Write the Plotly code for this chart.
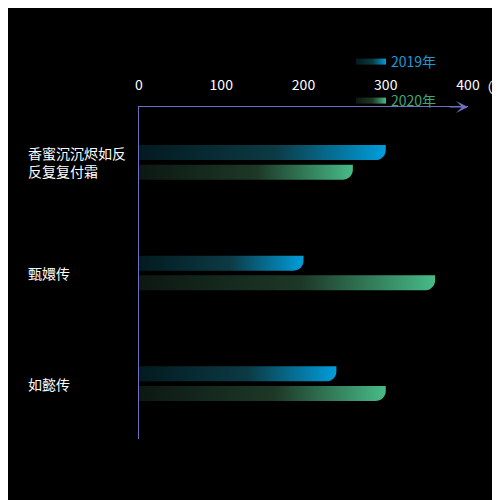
import numpy as np
import plotly.graph_objects as go

# === Дані ===
categories = ["香蜜沉沉烬如反反复复付霜", "甄嬛传", "如懿传"]
series_names = ["2019年", "2020年"]
values_2019 = [300, 200, 240]
values_2020 = [260, 360, 300]
x_ticks = [0, 100, 200, 300, 400]
axis_name = "（个）"

# === Геометрія (пікселі фігури; сторінка має відступ 8px) ===
W, H = 492, 492
L, R, T, B = 131, 32, 99, 61
pw, ph = W - L - R, H - T - B
x_max = 400
px_x = x_max / pw            # одиниць x на піксель
px_y = len(categories) / ph  # одиниць y на піксель

bar_h = 15 * px_y
offsets = [-9.8 * px_y, 9.8 * px_y]
rad_x, rad_y = 10 * px_x, 10 * px_y

scales = [
    [[0, "#031a20"], [0.55, "#0c3a44"], [1, "#009ddb"]],
    [[0, "#0c1812"], [0.55, "#1d3827"], [1, "#47bb88"]],
]
text_colors = ["#1b9bd8", "#3ba877"]


def bar_shape(v, yc):
    top, bot = yc - bar_h / 2, yc + bar_h / 2
    t = np.linspace(0, np.pi / 2, 12)
    ax = (v - rad_x) + rad_x * np.cos(t)
    ay = (bot - rad_y) + rad_y * np.sin(t)
    xs = [0, v] + list(ax) + [0, 0]
    ys = [top, top] + list(ay) + [bot, top]
    return xs, ys


fig = go.Figure()
for s, vals in enumerate([values_2019, values_2020]):
    for i, v in enumerate(vals):
        xs, ys = bar_shape(v, i + offsets[s])
        fig.add_trace(go.Scatter(
            x=xs, y=ys, mode="none", fill="toself",
            fillgradient=dict(type="horizontal", colorscale=scales[s]),
            name=f"<span style='color:{text_colors[s]}'>{series_names[s]}</span>",
            legendgroup=series_names[s], showlegend=(i == 0),
            legend="legend" if s == 0 else "legend2",
            hoverinfo="skip",
        ))

# Підписи категорій (вирівнювання ліворуч)
for i, c in enumerate(categories):
    txt = "<br>".join(c[k:k + 7] for k in range(0, len(c), 7))
    fig.add_annotation(
        x=(18 - L) / pw, xref="paper", xanchor="left",
        y=i, yref="y", yanchor="middle",
        text=txt, align="left", showarrow=False,
        font=dict(size=14, color="#ffffff"),
    )

# Стрілка осі та назва осі
fig.add_annotation(
    x=x_max, y=1, xref="x", yref="paper",
    ax=-20, ay=0, axref="pixel", ayref="pixel",
    text="", showarrow=True, arrowhead=3, arrowsize=2, arrowwidth=1,
    arrowcolor="#6e70c0",
)
fig.add_annotation(
    x=(469 - L) / pw, xref="paper", xanchor="left",
    y=(T + ph - 78) / ph, yref="paper", yanchor="middle",
    text=axis_name, showarrow=False,
    font=dict(size=14, color="#ffffff"),
)

font = "Noto Sans CJK SC"
fig.update_layout(
    width=W, height=H,
    margin=dict(l=L, r=R, t=T, b=B),
    paper_bgcolor="#000000", plot_bgcolor="#000000",
    font=dict(family=font, size=14, color="#ffffff"),
    xaxis=dict(
        range=[0, x_max], side="top", tickvals=x_ticks,
        showgrid=False, zeroline=False,
        showline=True, linecolor="#6e70c0", linewidth=1,
        ticks="", ticklabelstandoff=10,
        tickfont=dict(size=14, color="#ffffff"),
    ),
    yaxis=dict(
        range=[len(categories) - 0.5, -0.5],
        showticklabels=False, showgrid=False, zeroline=False,
        showline=True, linecolor="#6e70c0", linewidth=1,
    ),
    legend=dict(
        x=(343 - L) / pw, xanchor="left",
        y=(T + ph - 54) / ph, yanchor="middle",
        bgcolor="rgba(0,0,0,0)", font=dict(size=14),
    ),
    legend2=dict(
        x=(343 - L) / pw, xanchor="left",
        y=(T + ph - 93) / ph, yanchor="middle",
        bgcolor="rgba(0,0,0,0)", font=dict(size=14),
    ),
)

fig.write_html("out.html")
